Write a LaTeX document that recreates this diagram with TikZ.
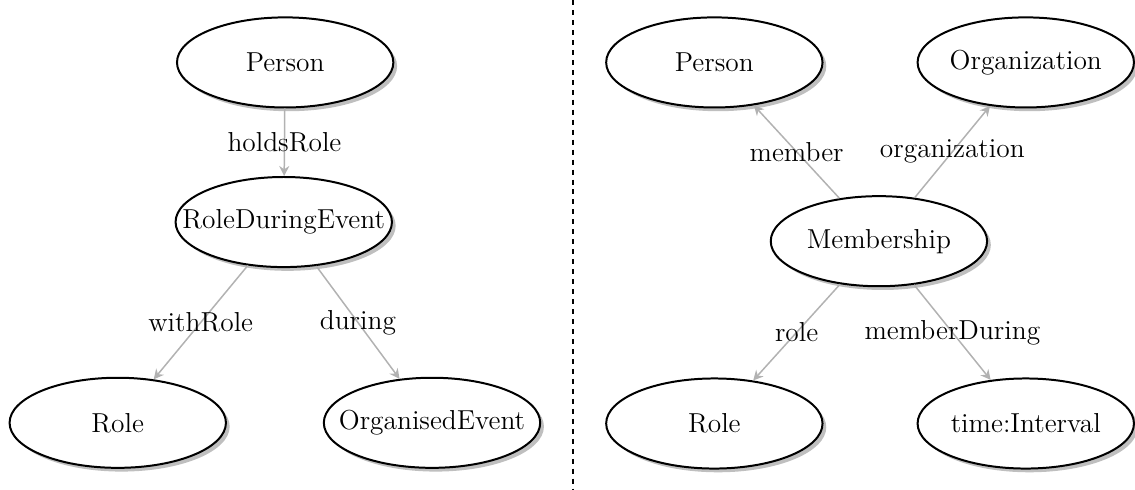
\documentclass[tikz,border=0pt]{standalone}
\usetikzlibrary{graphs,
                quotes,
                arrows.meta,
                shapes.geometric,
                shadows}

\begin{document}
\begin{tikzpicture}[>={Stealth[length=4pt,width=4pt]},
   font=\fontsize{11}{13.6}\selectfont,
   every edge quotes/.style={anchor=center},
   concept/.style={draw,thick,ellipse,fill=white,inner sep=0pt,
                   minimum width=3.05cm,minimum height=1.27cm,
                   drop shadow={shadow xshift=1.5pt,shadow yshift=-1.5pt,fill=black!25,opacity=1},
                   execute at begin node=\hbox to 0pt\bgroup\hss,
                   execute at end node=\hss\egroup},
   relation/.style={draw=black!30,semithick}]
 \useasboundingbox (0,0) rectangle (16,-6.907);
 % left: role during an event
 \node[concept] (person) at (4.02,-0.88) {Person};
 \node[concept] (rde)    at (4.00,-3.13) {RoleDuringEvent};
 \node[concept] (role)   at (1.66,-5.96) {Role};
 \node[concept] (event)  at (6.09,-5.96) {OrganisedEvent};
 % right: membership
 \node[concept] (mperson)    at (10.07,-0.88) {Person};
 \node[concept] (org)        at (14.46,-0.88) {Organization};
 \node[concept] (membership) at (12.39,-3.40) {Membership};
 \node[concept] (mrole)      at (10.07,-5.97) {Role};
 \node[concept] (interval)   at (14.46,-5.97) {time:Interval};
 \graph [use existing nodes, edges=relation]
   {
     person ->["holdsRole"] rde;
     rde ->["withRole"] role;
     rde ->["during"] event;
     membership ->["member"] mperson;
     membership ->["organization"] org;
     membership ->["role"] mrole;
     membership ->["memberDuring"] interval;
   };
 \coordinate (septop) at (8.08,0);
 \coordinate (sepbottom) at (8.08,-6.907);
 \draw[thick,dash pattern=on 2pt off 2pt] (septop) -- (sepbottom);
\end{tikzpicture}
\end{document}
